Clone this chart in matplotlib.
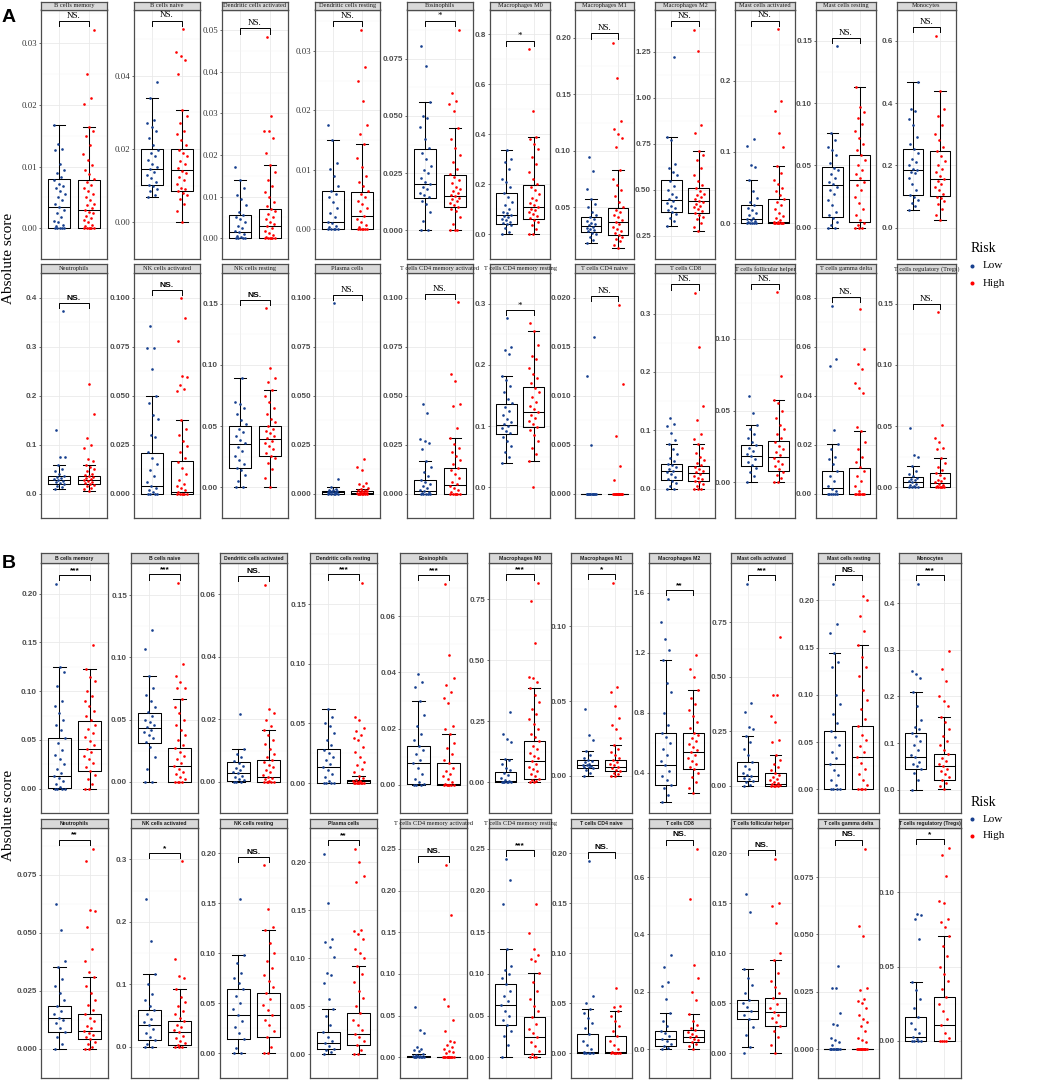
import matplotlib
matplotlib.use("Agg")
import matplotlib.pyplot as plt
from matplotlib.lines import Line2D

W, H = 1052, 1081
SERIF = "Liberation Serif"
SANS = "Liberation Sans"
BLUE = "#17408F"
RED = "#FF0000"

# ── facet names / significance ───────────────────────────────────────────────
NAMES_1 = ["B cells memory", "B cells naive", "Dendritic cells activated",
           "Dendritic cells resting", "Eosinophils", "Macrophages M0",
           "Macrophages M1", "Macrophages M2", "Mast cells activated",
           "Mast cells resting", "Monocytes"]
NAMES_2 = ["Neutrophils", "NK cells activated", "NK cells resting", "Plasma cells",
           "T cells CD4 memory activated", "T cells CD4 memory resting",
           "T cells CD4 naive", "T cells CD8", "T cells follicular helper",
           "T cells gamma delta", "T cells regulatory (Tregs)"]

SIG_A1 = ["NS.", "NS.", "NS.", "NS.", "*", "*", "NS.", "NS.", "NS.", "NS.", "NS."]
SIG_A2 = ["NS.", "NS.", "NS.", "NS.", "NS.", "*", "NS.", "NS.", "NS.", "NS.", "NS."]
SIG_B1 = ["***", "***", "NS.", "***", "***", "***", "*", "**", "***", "NS.", "***"]
SIG_B2 = ["**", "*", "NS.", "**", "NS.", "***", "NS.", "NS.", "NS.", "NS.", "*"]

# ── y tick labels ────────────────────────────────────────────────────────────
TICKS_A1 = [["0.00", "0.01", "0.02", "0.03"], ["0.00", "0.02", "0.04"],
            ["0.00", "0.01", "0.02", "0.03", "0.04", "0.05"], ["0.00", "0.01", "0.02", "0.03"],
            ["0.000", "0.025", "0.050", "0.075"], ["0.0", "0.2", "0.4", "0.6", "0.8"],
            ["0.05", "0.10", "0.15", "0.20"], ["0.25", "0.50", "0.75", "1.00", "1.25"],
            ["0.0", "0.1", "0.2"], ["0.00", "0.05", "0.10", "0.15"], ["0.0", "0.2", "0.4", "0.6"]]
TICKS_A2 = [["0.0", "0.1", "0.2", "0.3", "0.4"], ["0.000", "0.025", "0.050", "0.075", "0.100"],
            ["0.00", "0.05", "0.10", "0.15"], ["0.000", "0.025", "0.050", "0.075", "0.100"],
            ["0.000", "0.025", "0.050", "0.075", "0.100"], ["0.0", "0.1", "0.2", "0.3"],
            ["0.000", "0.005", "0.010", "0.015", "0.020"], ["0.0", "0.1", "0.2", "0.3"],
            ["0.00", "0.05", "0.10"], ["0.00", "0.02", "0.04", "0.06", "0.08"],
            ["0.00", "0.05", "0.10", "0.15"]]
TICKS_B1 = [["0.00", "0.05", "0.10", "0.15", "0.20"], ["0.00", "0.05", "0.10", "0.15"],
            ["0.00", "0.02", "0.04", "0.06"], ["0.00", "0.05", "0.10", "0.15"],
            ["0.00", "0.02", "0.04", "0.06"], ["0.00", "0.25", "0.50", "0.75"],
            ["0.00", "0.05", "0.10"], ["0.4", "0.8", "1.2", "1.6"],
            ["0.00", "0.25", "0.50", "0.75"], ["0.00", "0.05", "0.10", "0.15", "0.20"],
            ["0.0", "0.1", "0.2", "0.3", "0.4"]]
TICKS_B2 = [["0.000", "0.025", "0.050", "0.075"], ["0.0", "0.1", "0.2", "0.3"],
            ["0.00", "0.05", "0.10", "0.15", "0.20"], ["0.00", "0.05", "0.10", "0.15", "0.20"],
            ["0.00", "0.05", "0.10", "0.15", "0.20", "0.25"],
            ["0.00", "0.05", "0.10", "0.15", "0.20", "0.25"],
            ["0.00", "0.05", "0.10", "0.15", "0.20"], ["0.0", "0.2", "0.4", "0.6"],
            ["0.00", "0.05", "0.10", "0.15", "0.20"], ["0.000", "0.025", "0.050", "0.075"],
            ["0.00", "0.05", "0.10"]]

# ── box stats: (whislo, q1, med, q3, whishi) ─────────────────────────────────
BOX_LOW_A1 = [(0, 0, .0035, .008, .0167), (.0069, .0101, .0147, .020, .034),
              (0, 0, .0016, .0057, .0139), (0, 0, .0013, .0064, .015),
              (0, .0141, .0201, .0356, .056), (0, .0415, .077, .163, .335),
              (.0186, .0277, .0336, .041, .0576), (.302, .382, .444, .554, .787),
              (0, 0, .006, .026, .06), (0, .0088, .0341, .0484, .0761),
              (.058, .106, .185, .253, .466)]
BOX_HIGH_A1 = [(0, 0, .003, .0079, .0165), (0, .0086, .0142, .020, .0307),
               (0, 0, .0029, .0071, .0175), (0, 0, .0023, .0062, .0144),
               (0, .0101, .0149, .0243, .0448), (0, .059, .107, .198, .39),
               (.0138, .0257, .0373, .049, .083), (.279, .375, .441, .512, .709),
               (0, 0, .0025, .034, .0806), (0, .005, .0384, .0583, .1125),
               (.026, .101, .156, .245, .44)]
BOX_LOW_A2 = [(.0097, .019, .027, .035, .059), (0, 0, .0039, .0207, .0495),
              (0, .0157, .0357, .05, .0891), (0, 0, .0008, .0015, .0033),
              (0, 0, .0012, .0071, .0167), (.04, .0871, .1026, .1365, .182),
              (0, 0, 0, 0, 0), (0, .0146, .0307, .042, .0775),
              (0, .0113, .0183, .0259, .040), (0, 0, .0021, .0093, .0201),
              (0, 0, .0045, .0087, .0176)]
BOX_HIGH_A2 = [(.005, .019, .027, .036, .059), (0, 0, .001, .0165, .0377),
               (0, .0257, .0398, .05, .0795), (0, 0, .0005, .0011, .0023),
               (0, 0, .0041, .0129, .0283), (.0433, .0983, .123, .1635, .2545),
               (0, 0, 0, 0, 0), (0, .0125, .0276, .039, .0765),
               (0, .0078, .0173, .0288, .0574), (0, 0, 0, .0105, .0257),
               (0, 0, .0038, .0116, .024)]
BOX_LOW_B1 = [(0, .0005, .0132, .0518, .1253), (0, .0313, .043, .0549, .085),
              (0, .0003, .0027, .0062, .0104), (0, 0, .0138, .0285, .0618),
              (0, .0004, .0077, .0139, .0298), (0, 0, .005, .0427, .097),
              (0, .0054, .0069, .0103, .0164), (.204, .319, .45, .668, 1.154),
              (0, .023, .0425, .111, .227), (0, 0, .027, .0623, .144),
              (0, .0446, .0696, .1217, .209)]
BOX_HIGH_B1 = [(0, .018, .0409, .0696, .1228), (0, 0, .0125, .0274, .0664),
               (0, 0, .0016, .0071, .0165), (0, 0, .0017, .003, .0064),
               (0, 0, .0004, .0077, .018), (0, .016, .0875, .168, .386),
               (0, .003, .006, .0103, .0208), (.265, .425, .537, .668, .95),
               (0, 0, .0083, .058, .139), (0, 0, .0346, .067, .153),
               (.001, .0215, .0507, .077, .1568)]
BOX_LOW_B2 = [(0, .0072, .0134, .0187, .0352), (0, .0105, .0356, .0584, .116),
              (0, .0138, .0381, .0643, .0984), (0, .0056, .0115, .0234, .0467),
              (0, 0, .0007, .0018, .0042), (0, .0383, .0624, .0883, .13),
              (0, 0, .001, .0186, .0442), (0, .0129, .0365, .0633, .128),
              (.006, .034, .0424, .0534, .0839), (0, 0, 0, 0, 0),
              (0, 0, .0024, .0162, .0397)]
BOX_HIGH_B2 = [(0, .0041, .0077, .0151, .031), (0, .0027, .0233, .0411, .0922),
               (0, .0164, .0381, .0597, .1235), (0, .0099, .0214, .0431, .0924),
               (0, 0, 0, 0, 0), (0, .0033, .0237, .0478, .1011),
               (0, 0, .001, .0168, .0416), (0, .0268, .0419, .0655, .1245),
               (0, .0272, .0412, .0549, .0934), (0, 0, 0, 0, 0),
               (0, 0, .0104, .0297, .0705)]

# ── individual sample scores (read approximately) ────────────────────────────
PTS_LOW_A1 = [
    [0, 0, 0, 0, 0, .0003, .0006, .001, .0012, .0018, .0025, .003, .0035, .004, .0045, .005, .0055, .006, .0066, .0068, .0072, .0078, .0083, .009, .0095, .0105, .0127, .0129, .0137, .0167],
    [.0069, .0075, .0085, .009, .0098, .0103, .011, .012, .013, .0138, .0145, .015, .016, .017, .018, .019, .0198, .021, .023, .025, .026, .027, .028, .034, .0384],
    [0, 0, 0, 0, .0003, .0006, .001, .0014, .0018, .0025, .003, .0038, .0045, .005, .0055, .0062, .008, .0095, .0105, .012, .0139, .0172],
    [0, 0, 0, 0, 0, .0003, .0006, .001, .0013, .002, .0028, .0035, .0045, .0055, .006, .0065, .0072, .009, .0102, .0112, .015, .0175],
    [0, 0, .004, .008, .0115, .013, .0145, .0155, .0165, .018, .019, .0201, .021, .023, .025, .0265, .028, .031, .034, .036, .040, .045, .049, .050, .056, .0717, .0804],
    [0, .01, .025, .035, .04, .045, .05, .055, .06, .067, .072, .077, .083, .09, .1, .115, .13, .15, .163, .19, .21, .22, .26, .29, .30, .335],
    [.0186, .021, .024, .026, .0275, .029, .03, .031, .032, .033, .034, .035, .036, .038, .04, .041, .043, .046, .05, .053, .0576, .066, .082, .0944],
    [.302, .33, .35, .37, .38, .39, .40, .415, .43, .44, .45, .46, .48, .5, .52, .55, .58, .6, .62, .64, .77, .787, 1.221],
    [0, 0, 0, 0, .001, .002, .003, .005, .006, .008, .011, .014, .018, .022, .026, .03, .036, .045, .06, .079, .081, .108, .118],
    [0, 0, .002, .005, .008, .01, .013, .018, .022, .027, .03, .033, .035, .037, .04, .043, .046, .048, .052, .058, .062, .065, .07, .0761, .1455],
    [.058, .07, .08, .09, .1, .106, .12, .14, .16, .175, .18, .185, .19, .2, .21, .22, .24, .253, .27, .29, .33, .35, .375, .38, .466],
]
PTS_HIGH_A1 = [
    [0, 0, 0, 0, 0, 0, .0003, .0006, .001, .0013, .0016, .002, .0024, .0027, .003, .0033, .0037, .004, .0045, .005, .0055, .006, .0065, .007, .0075, .008, .0088, .0095, .0102, .011, .012, .0135, .015, .0158, .0165, .0201, .0211, .025, .0322],
    [0, .003, .005, .0065, .0075, .008, .0085, .009, .0095, .0105, .0115, .0125, .0135, .014, .0148, .0158, .0168, .018, .019, .0198, .021, .0225, .024, .025, .027, .029, .0307, .0406, .0443, .0455, .0466, .0527],
    [0, 0, 0, 0, 0, 0, .0004, .0008, .0012, .0018, .0024, .0029, .0034, .004, .0046, .0052, .0058, .0065, .0071, .0078, .0088, .0098, .011, .0125, .014, .016, .0175, .0206, .0241, .0258, .0259, .0295, .0483],
    [0, 0, 0, 0, 0, 0, .0003, .0007, .0012, .0017, .0023, .003, .0036, .0042, .0048, .0055, .006, .0065, .0072, .008, .009, .0105, .012, .0144, .016, .0175, .0215, .025, .0273, .0335],
    [0, 0, 0, .003, .006, .0085, .0095, .0102, .011, .012, .0128, .0135, .0142, .0149, .0155, .0162, .017, .018, .019, .0205, .022, .0235, .0245, .027, .030, .033, .036, .040, .0448, .052, .055, .0565, .060, .0875],
    [0, 0, .02, .035, .05, .058, .065, .072, .08, .088, .095, .102, .107, .115, .125, .135, .145, .16, .175, .19, .2, .22, .25, .28, .31, .34, .36, .38, .39, .492, .742],
    [.0138, .017, .02, .022, .024, .0255, .027, .029, .031, .033, .035, .037, .039, .041, .043, .046, .048, .05, .055, .06, .065, .07, .075, .083, .103, .111, .115, .119, .1266, .164, .1958],
    [.279, .3, .32, .34, .355, .365, .375, .385, .395, .405, .415, .425, .435, .441, .45, .46, .47, .48, .495, .51, .525, .55, .58, .62, .66, .69, .709, .81, .851, 1.253, 1.368],
    [0, 0, 0, 0, 0, 0, 0, .001, .002, .0025, .004, .007, .01, .015, .02, .025, .03, .034, .04, .045, .05, .055, .06, .07, .0806, .107, .127, .158, .172, .2717],
    [0, 0, 0, .002, .004, .006, .01, .015, .02, .025, .03, .034, .037, .04, .043, .046, .05, .054, .058, .062, .067, .072, .078, .083, .088, .093, .097, .1125],
    [.026, .04, .06, .075, .085, .095, .1, .11, .12, .13, .14, .15, .156, .165, .18, .19, .2, .215, .23, .245, .26, .28, .3, .33, .36, .38, .44, .616],
]
PTS_LOW_A2 = [
    [.0097, .013, .016, .019, .021, .023, .025, .027, .029, .031, .033, .035, .04, .045, .05, .059, .074, .075, .13, .372],
    [0, 0, 0, 0, .001, .002, .003, .004, .006, .009, .012, .015, .018, .021, .029, .03, .038, .04, .046, .0495, .0633, .0742, .0744, .0857],
    [0, 0, .005, .01, .014, .016, .019, .022, .026, .03, .033, .036, .039, .042, .045, .048, .052, .055, .06, .065, .068, .07, .0891],
    [0, 0, 0, 0, 0, .0003, .0005, .0007, .0008, .001, .0012, .0014, .0016, .002, .0025, .0033, .0075, .097],
    [0, 0, 0, 0, 0, .0005, .001, .0015, .002, .003, .004, .005, .006, .007, .009, .011, .0135, .0167, .0225, .026, .027, .028, .041, .0455],
    [.04, .05, .058, .068, .075, .083, .088, .092, .097, .1, .103, .107, .112, .118, .125, .132, .137, .145, .155, .165, .175, .182, .218, .224, .23, .2764],
    [0, 0, 0, 0, 0, 0, 0, 0, 0, 0, 0, 0, .00491, .012, .01596],
    [0, 0, .005, .01, .014, .017, .021, .025, .028, .031, .034, .037, .04, .043, .048, .053, .06, .068, .0775, .083, .096, .108, .111, .122],
    [0, .004, .007, .01, .012, .014, .016, .018, .02, .022, .024, .026, .028, .031, .034, .037, .04, .048, .06],
    [0, 0, 0, 0, 0, 0, .001, .002, .003, .005, .007, .009, .012, .014, .015, .018, .0201, .026, .052, .055, .0767],
    [0, 0, 0, 0, .001, .002, .003, .004, .005, .006, .007, .008, .009, .011, .013, .0176, .025, .0265, .0483],
]
PTS_HIGH_A2 = [
    [.005, .009, .012, .015, .017, .019, .021, .023, .025, .027, .029, .031, .033, .035, .037, .04, .045, .05, .055, .059, .067, .07, .093, .1, .1126, .163, .2236],
    [0, 0, 0, 0, 0, 0, .001, .002, .003, .004, .005, .007, .01, .013, .016, .018, .021, .024, .027, .03, .033, .0377, .0525, .0535, .0555, .0595, .06, .078, .0895, .0995],
    [0, .008, .015, .02, .024, .026, .028, .031, .034, .036, .038, .04, .042, .044, .046, .048, .05, .053, .056, .06, .065, .07, .075, .0795, .086, .089, .0975, .1464],
    [0, 0, 0, 0, 0, 0, 0, .0002, .0004, .0005, .0007, .0009, .0011, .0013, .0016, .002, .0023, .003, .004, .005, .0055, .012, .0135, .0177],
    [0, 0, 0, 0, 0, 0, .001, .002, .003, .004, .005, .006, .008, .01, .012, .013, .015, .017, .019, .021, .023, .0255, .0283, .0335, .0445, .0455, .0575, .061, .0975],
    [0, .0433, .055, .065, .075, .085, .093, .098, .103, .108, .113, .118, .123, .128, .133, .14, .147, .155, .163, .17, .178, .185, .195, .21, .214, .232, .2545, .2678],
    [0, 0, 0, 0, 0, 0, 0, 0, 0, 0, 0, 0, 0, 0, .00135, .00278, .00584, .01114, .01928],
    [0, 0, 0, .004, .008, .011, .013, .016, .019, .022, .025, .028, .031, .034, .037, .04, .044, .049, .055, .062, .07, .0765, .085, .094, .118, .141, .243, .335],
    [0, 0, .003, .005, .007, .009, .011, .013, .015, .017, .019, .021, .023, .025, .028, .031, .034, .037, .04, .045, .05, .055, .0574, .0741, .1325],
    [0, 0, 0, 0, 0, 0, 0, 0, .001, .003, .005, .007, .009, .011, .013, .015, .018, .021, .0257, .027, .041, .043, .045, .051, .053, .059, .0755],
    [0, 0, 0, 0, 0, 0, .001, .002, .003, .004, .005, .006, .008, .01, .012, .014, .017, .02, .024, .031, .032, .037, .04, .051, .1433],
]
PTS_LOW_B1 = [
    [0, 0, 0, 0, .002, .005, .008, .011, .013, .016, .02, .025, .03, .035, .04, .047, .052, .06, .065, .07, .078, .085, .09, .105, .12, .1253, .21],
    [0, 0, .01, .02, .028, .032, .035, .038, .04, .042, .044, .046, .048, .05, .053, .056, .06, .065, .07, .075, .085, .1068, .1222],
    [0, 0, 0, .0005, .001, .0015, .002, .0027, .0032, .0038, .0045, .0052, .006, .0068, .0078, .009, .0104, .0218],
    [0, 0, 0, 0, .002, .005, .008, .011, .0138, .016, .019, .022, .025, .028, .032, .036, .042, .048, .05, .055, .0618],
    [0, 0, 0, .0004, .001, .002, .004, .006, .0077, .009, .011, .0125, .0139, .016, .018, .021, .025, .0298, .035, .0365, .0395],
    [0, 0, 0, 0, 0, .002, .005, .01, .02, .03, .04, .05, .06, .075, .09, .097, .165, .18, .2, .29],
    [0, .002, .004, .005, .0055, .006, .0065, .007, .0075, .008, .009, .01, .0103, .012, .014, .0164, .024, .0271, .0446],
    [.204, .25, .3, .319, .35, .38, .41, .45, .48, .52, .56, .6, .64, .668, .72, .8, .94, 1.0, 1.154, 1.22, 1.29, 1.405, 1.56],
    [0, .005, .015, .023, .03, .036, .0425, .05, .06, .075, .09, .111, .14, .17, .2, .227, .26, .27, .34, .379, .926],
    [0, 0, 0, 0, .005, .01, .015, .02, .027, .033, .04, .047, .055, .0623, .07, .08, .09, .1, .13, .135, .144, .166, .1746, .2173],
    [0, .02, .035, .0446, .05, .055, .06, .0696, .075, .085, .095, .105, .115, .1217, .13, .135, .15, .18, .209, .24, .248, .255, .4407],
]
PTS_HIGH_B1 = [
    [0, 0, .005, .01, .014, .018, .022, .026, .03, .034, .038, .041, .045, .049, .053, .057, .061, .065, .07, .075, .08, .085, .09, .095, .1, .11, .115, .1228, .147],
    [0, 0, 0, 0, .002, .004, .006, .008, .01, .0125, .015, .018, .021, .024, .027, .03, .034, .038, .042, .046, .05, .055, .06, .0664, .075, .075, .08, .085, .0947, .1594],
    [0, 0, 0, 0, 0, .0004, .0008, .0012, .0016, .0022, .003, .0038, .0046, .0055, .0063, .0071, .008, .009, .0105, .012, .0135, .015, .0165, .018, .0198, .022, .0233, .063],
    [0, 0, 0, 0, 0, 0, 0, .0005, .001, .0017, .0022, .003, .004, .0064, .009, .012, .015, .018, .022, .026, .03, .036, .038, .04, .044, .046, .053, .055, .1672],
    [0, 0, 0, 0, 0, 0, .0004, .001, .002, .003, .004, .005, .006, .0077, .009, .011, .013, .015, .018, .02, .021, .029, .031, .033, .0355, .0379, .0463, .0716],
    [0, 0, .005, .01, .016, .025, .035, .045, .055, .065, .075, .0875, .1, .11, .12, .135, .15, .168, .185, .2, .22, .24, .26, .28, .3, .33, .36, .386, .41, .427, .43, .57, .743, .815],
    [0, 0, .001, .002, .003, .004, .005, .006, .007, .008, .009, .0103, .012, .014, .016, .018, .0208, .025, .031, .034, .039, .047, .056, .0593, .1293],
    [.265, .3, .34, .37, .4, .425, .44, .46, .48, .5, .52, .537, .555, .57, .59, .61, .63, .65, .668, .7, .74, .78, .82, .86, .9, .95, 1.04, 1.09, 1.185],
    [0, 0, 0, 0, .002, .005, .0083, .012, .018, .025, .032, .04, .05, .058, .07, .085, .1, .12, .139, .2, .21, .29, .32, .415, .418, .68],
    [0, 0, 0, 0, .005, .01, .016, .022, .028, .0346, .04, .046, .052, .058, .067, .075, .085, .095, .105, .12, .13, .14, .153, .168, .183, .2, .205],
    [.001, .008, .015, .0215, .028, .034, .04, .045, .0507, .056, .062, .068, .077, .085, .095, .105, .115, .13, .145, .1568, .18, .19, .2, .232, .258, .2967],
]
PTS_LOW_B2 = [
    [0, .002, .005, .0072, .009, .011, .0125, .0134, .015, .0165, .0187, .021, .024, .027, .03, .0352, .038, .0512, .0623],
    [0, 0, .005, .0105, .016, .022, .028, .0356, .04, .045, .052, .0584, .065, .075, .085, .1, .116, .169, .237],
    [0, 0, .005, .0138, .02, .026, .032, .0381, .044, .05, .057, .0643, .07, .075, .08, .09, .0984, .154],
    [0, .002, .004, .0056, .008, .0115, .014, .018, .0234, .03, .04, .0467, .057, .074, .082, .085, .101, .112, .117, .12, .158, .209],
    [0, 0, 0, 0, 0, .0004, .0007, .001, .0014, .0018, .0025, .0042, .008, .009, .01, .012, .029, .033, .0602],
    [0, .015, .025, .032, .0383, .045, .05, .056, .0624, .068, .074, .08, .0883, .095, .1, .105, .11, .13, .1843, .2124, .2376],
    [0, 0, 0, 0, 0, .001, .004, .008, .012, .0186, .025, .03, .035, .04, .0442, .05, .0566, .192],
    [0, .005, .0129, .02, .028, .0365, .045, .055, .0633, .08, .1, .128, .175, .22, .235, .286, .3285],
    [0, .006, .018, .026, .034, .038, .0424, .046, .05, .0534, .06, .068, .075, .0839, .1415, .1594],
    [0, 0, 0, 0, 0, 0, 0, 0, 0, 0, .002, .003, .004, .005, .0105, .011, .0158, .0265, .0266, .0364],
    [0, 0, 0, 0, .001, .0024, .005, .008, .012, .0162, .022, .028, .034, .0397, .0683, .082, .085, .0856],
]
PTS_HIGH_B2 = [
    [0, 0, .001, .002, .003, .0041, .005, .006, .007, .0077, .009, .01, .012, .0135, .0151, .017, .019, .021, .024, .027, .031, .033, .038, .043, .0525, .0595, .0597, .081, .0864],
    [0, 0, 0, .0027, .006, .01, .014, .018, .0233, .027, .031, .035, .0411, .046, .052, .058, .065, .072, .08, .0922, .11, .113, .14, .297],
    [0, 0, .006, .0164, .022, .028, .033, .0381, .043, .048, .054, .0597, .066, .072, .078, .085, .092, .1, .11, .1235, .126, .144, .1878],
    [0, 0, .004, .0099, .014, .018, .0214, .025, .03, .036, .0431, .05, .058, .066, .075, .084, .0924, .1, .105, .11, .12, .125, .128, .129, .18, .186, .2, .214],
    [0, 0, 0, 0, 0, 0, 0, 0, 0, 0, 0, .005, .006, .008, .01, .012, .015, .018, .02, .031, .045, .062, .0701, .1703, .2305],
    [0, 0, 0, .0033, .008, .013, .018, .0237, .029, .034, .04, .0478, .055, .062, .07, .08, .09, .1011, .115, .118, .123, .1296, .1493, .184],
    [0, 0, 0, 0, 0, 0, .001, .004, .008, .012, .0168, .022, .027, .032, .037, .0416, .046, .047, .0646],
    [0, .01, .02, .0268, .032, .037, .0419, .047, .053, .059, .0655, .075, .085, .1, .1245, .17, .2, .25, .292, .5218, .699],
    [0, .008, .016, .022, .0272, .031, .035, .038, .0412, .045, .049, .0549, .06, .066, .072, .08, .0934, .1, .13, .147, .15, .1943],
    [0, 0, 0, 0, 0, 0, 0, 0, 0, 0, 0, 0, .003, .004, .005, .008, .01, .012, .013, .015, .018, .02, .021, .022, .026, .0268, .0495, .0537, .0874],
    [0, 0, 0, 0, .002, .005, .0104, .015, .02, .025, .0297, .035, .04, .045, .05, .057, .064, .0705, .077, .08, .082, .093, .094, .111, .125, .13],
]

# ── layout (pixels) ──────────────────────────────────────────────────────────
COLS_A = [(41, 107), (134, 200), (222, 288), (315, 380), (407, 473), (490, 550),
          (575, 634), (655, 715), (735, 795), (816, 876), (897, 956)]
COLS_B = [(41, 108), (131, 198), (220, 287), (310, 377), (400, 467), (489, 551),
          (571, 632), (649, 710), (731, 792), (818, 879), (899, 961)]

fig = plt.figure(figsize=(W / 100, H / 100), dpi=100)
fig.patch.set_facecolor("white")


def font(kind):
    if kind == "serif":
        return dict(family=SERIF)
    return dict(family=SANS, weight="bold")


def jitter(n, seed):
    return [((i * 0.6180339887 + seed) % 1.0 - 0.5) * 0.38 for i in range(n)]


def draw_panel(cx, yrow, name, sig, ticks, blo, bhi, plo, phi, tk, sk, gk):
    x0, x1 = cx
    ys0, ys1, yb = yrow
    ax = fig.add_axes([x0 / W, 1 - yb / H, (x1 - x0) / W, (yb - ys1) / H])
    allv = list(plo) + list(phi) + list(blo) + list(bhi)
    vmin, vmax = min(allv), max(allv)
    R = vmax - vmin

    stats = [dict(whislo=b[0], q1=b[1], med=b[2], q3=b[3], whishi=b[4], fliers=[])
             for b in (blo, bhi)]
    lp = dict(color="black", lw=0.75)
    ax.bxp(stats, positions=[1, 2], widths=0.75, showfliers=False, capwidths=0.42,
           boxprops=lp, whiskerprops=lp, capprops=lp, medianprops=lp,
           manage_ticks=False)

    for pos, pts, col, sd in ((1, plo, BLUE, 0.11), (2, phi, RED, 0.47)):
        offs = jitter(len(pts), sd)
        ax.scatter([pos + o for o in offs], pts, s=3.6, color=col, linewidths=0,
                   zorder=3)

    ax.set_xlim(0.4, 2.6)
    ax.set_ylim(vmin - 0.0525 * R, vmax + 0.1025 * R)
    tv = [float(t) for t in ticks]
    step = tv[1] - tv[0]
    ax.set_yticks(tv)
    ax.set_yticklabels(ticks, fontsize=6.3 if tk == "serif" else 5.8, **font(tk),
                       color="#333333" if tk == "serif" else "#4D4D4D")
    ax.set_yticks([tv[0] - step / 2] + [t + step / 2 for t in tv], minor=True)
    ax.set_xticks([])
    ax.tick_params(axis="y", which="major", length=1.8, width=0.5, color="#333333", pad=1)
    ax.tick_params(axis="y", which="minor", length=0)
    ax.grid(which="major", axis="y", color="#E8E8E8", lw=0.55)
    ax.grid(which="minor", axis="y", color="#F3F3F3", lw=0.35)
    for xg in (1, 2):
        ax.axvline(xg, color="#E8E8E8", lw=0.55, zorder=0.5)
    ax.set_axisbelow(True)
    for sp in ax.spines.values():
        sp.set_color("#4D4D4D")
        sp.set_linewidth(0.9)

    yb_ = vmax + 0.045 * R
    yl_ = vmax + 0.018 * R
    ax.plot([1, 1, 2, 2], [yl_, yb_, yb_, yl_], color="black", lw=0.7, zorder=4)
    star = sig.startswith("*")
    ax.text(1.5, yb_ + (0.004 if star else 0.006) * R, sig, ha="center", va="bottom",
            fontsize=(6.5 if gk == "serif" else 6.0), **font(gk), zorder=5)

    sax = fig.add_axes([x0 / W, 1 - ys1 / H, (x1 - x0) / W, (ys1 - ys0) / H])
    sax.set_facecolor("#D9D9D9")
    sax.set_xticks([])
    sax.set_yticks([])
    for sp in sax.spines.values():
        sp.set_color("#4D4D4D")
        sp.set_linewidth(0.9)
    sax.text(0.5, 0.45, name, ha="center", va="center",
             fontsize=(4.6 if sk == "serif" else 3.7), **font(sk),
             color="#1A1A1A", clip_on=False)


def draw_row(cols, yrow, names, sigs, ticks, blo, bhi, plo, phi, tkf, skf, gkf):
    for i in range(11):
        draw_panel(cols[i], yrow, names[i], sigs[i], ticks[i], blo[i], bhi[i],
                   plo[i], phi[i], tkf(i), skf(i), gkf(i))


draw_row(COLS_A, (1.5, 9.5, 259), NAMES_1, SIG_A1, TICKS_A1, BOX_LOW_A1, BOX_HIGH_A1,
         PTS_LOW_A1, PTS_HIGH_A1,
         lambda i: "serif" if i < 4 else "bold", lambda i: "serif", lambda i: "serif")
draw_row(COLS_A, (264, 273, 518), NAMES_2, SIG_A2, TICKS_A2, BOX_LOW_A2, BOX_HIGH_A2,
         PTS_LOW_A2, PTS_HIGH_A2,
         lambda i: "bold", lambda i: "serif", lambda i: "bold" if i < 3 else "serif")
draw_row(COLS_B, (553, 563, 813), NAMES_1, SIG_B1, TICKS_B1, BOX_LOW_B1, BOX_HIGH_B1,
         PTS_LOW_B1, PTS_HIGH_B1,
         lambda i: "bold", lambda i: "bold", lambda i: "bold")
draw_row(COLS_B, (819, 828, 1078), NAMES_2, SIG_B2, TICKS_B2, BOX_LOW_B2, BOX_HIGH_B2,
         PTS_LOW_B2, PTS_HIGH_B2,
         lambda i: "bold", lambda i: "serif" if i in (4, 5) else "bold", lambda i: "bold")

# ── labels & legends ─────────────────────────────────────────────────────────
fig.text(2 / W, 1 - 17 / H, "A", fontsize=14, fontweight="bold", family=SANS, va="center")
fig.text(2 / W, 1 - 563 / H, "B", fontsize=14, fontweight="bold", family=SANS, va="center")
for yc in (258, 815):
    fig.text(9 / W, 1 - yc / H, "Absolute score", rotation=90, fontsize=11, family=SERIF,
             ha="center", va="center")

for yr, ylo, yhi in ((248, 266, 283), (802, 819, 836)):
    fig.text(971 / W, 1 - yr / H, "Risk", fontsize=10, family=SERIF, va="center")
    for yy, col, lab in ((ylo, BLUE, "Low"), (yhi, RED, "High")):
        fig.add_artist(Line2D([972 / W], [1 - yy / H], marker="o", markersize=1.9,
                              color=col, linestyle="none", transform=fig.transFigure))
        fig.text(983 / W, 1 - yy / H, lab, fontsize=8, family=SERIF, va="center")

fig.savefig("out.png", dpi=100)
